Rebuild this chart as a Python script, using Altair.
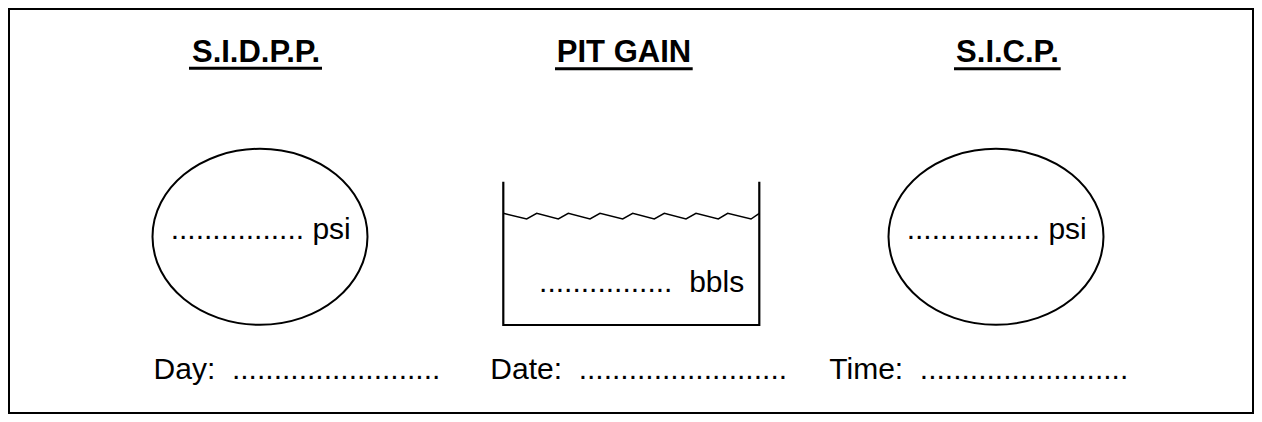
import altair as alt
import pandas as pd

NB = "\u00a0"

# ---- content ----
titles = ["S.I.D.P.P.", "PIT GAIN", "S.I.C.P."]
title_x = [256, 624, 1007.5]
title_y = [61.7, 61.7, 61.7]
underline_x1 = [189, 555, 954]
underline_x2 = [322, 692.7, 1060.7]
underline_y = [68.3, 68.7, 68.7]

gauge_labels = ["." * 16 + NB + "psi", "." * 16 + NB * 2 + "bbls", "." * 16 + NB + "psi"]
gauge_label_x = [170.7, 539.1, 906.7]
gauge_label_y = [239, 292.3, 239]

# pressure gauges drawn as ellipses (measured 216 wide x 176 tall)
gauge_cx = [260, 996]
gauge_cy = [236.8, 236.8]
gauge_w = 215
gauge_h = 176

tank_x = [503.3, 503.3, 759.3, 759.3]
tank_y = [181.7, 325, 325, 181.7]

wave_x = [503.3, 526.7, 536.7, 558.3, 568.3, 590, 600, 622.7, 632.7,
          654.3, 664.3, 686, 696, 718.3, 727.7, 751, 759.3]
wave_y = [213.3, 219, 213.3, 219, 213.3, 219, 213.3, 219, 213.3,
          219, 213.3, 219, 213.3, 219, 213.3, 219, 213.3]

footer_labels = ["Day:" + NB * 2 + "." * 25,
                 "Date:" + NB * 2 + "." * 25,
                 "Time:" + NB * 2 + "." * 25]
footer_x = [153.6, 490.3, 829.3]
footer_y = [379.3, 379.3, 379.3]

border = {"x1": [9], "x2": [1253], "y1": [9], "y2": [413]}

# ---- scales: page-pixel coordinates ----
W, H = 1246, 406
xs = alt.Scale(domain=[8, 8 + W], nice=False, zero=False)
ys = alt.Scale(domain=[8, 8 + H], nice=False, zero=False, reverse=True)
FONT = "Liberation Sans"


def X(f="x"):
    return alt.X(f"{f}:Q", scale=xs, axis=None)


def Y(f="y"):
    return alt.Y(f"{f}:Q", scale=ys, axis=None)


frame = alt.Chart(pd.DataFrame(border)).mark_rect(
    fill=None, stroke="black", strokeWidth=2
).encode(x=X("x1"), x2="x2:Q", y=Y("y1"), y2="y2:Q")

title_df = pd.DataFrame({"t": titles, "x": title_x, "y": title_y})
title_layer = alt.Chart(title_df).mark_text(
    font=FONT, fontSize=31, fontWeight="bold", align="center",
    baseline="alphabetic", color="black"
).encode(x=X(), y=Y(), text="t:N")

ul_df = pd.DataFrame({"x1": underline_x1, "x2": underline_x2, "y": underline_y})
ul_layer = alt.Chart(ul_df).mark_rule(color="black", strokeWidth=3).encode(
    x=X("x1"), x2="x2:Q", y=Y()
)

ry = gauge_h / gauge_w
ellipse_path = f"M -1 0 A 1 {ry:.4f} 0 1 1 1 0 A 1 {ry:.4f} 0 1 1 -1 0 Z"
circ_df = pd.DataFrame({"x": gauge_cx, "y": gauge_cy})
circ_layer = alt.Chart(circ_df).mark_point(
    shape=ellipse_path, filled=False, color="black", strokeWidth=2,
    size=gauge_w * gauge_w, opacity=1
).encode(x=X(), y=Y())

tank_df = pd.DataFrame({"x": tank_x, "y": tank_y, "o": list(range(len(tank_x)))})
tank_layer = alt.Chart(tank_df).mark_line(color="black", strokeWidth=2.2).encode(
    x=X(), y=Y(), order="o:Q"
)

wave_df = pd.DataFrame({"x": wave_x, "y": wave_y, "o": list(range(len(wave_x)))})
wave_layer = alt.Chart(wave_df).mark_line(color="black", strokeWidth=1.5).encode(
    x=X(), y=Y(), order="o:Q"
)

gl_df = pd.DataFrame({"t": gauge_labels, "x": gauge_label_x, "y": gauge_label_y})
gl_layer = alt.Chart(gl_df).mark_text(
    font=FONT, fontSize=30, align="left", baseline="alphabetic", color="black"
).encode(x=X(), y=Y(), text="t:N")

ft_df = pd.DataFrame({"t": footer_labels, "x": footer_x, "y": footer_y})
ft_layer = alt.Chart(ft_df).mark_text(
    font=FONT, fontSize=30, align="left", baseline="alphabetic", color="black"
).encode(x=X(), y=Y(), text="t:N")

chart = alt.layer(
    frame, title_layer, ul_layer, circ_layer, tank_layer, wave_layer,
    gl_layer, ft_layer
).properties(
    width=W, height=H,
    autosize=alt.AutoSizeParams(type="none"),
    padding=0,
    background="white",
).configure_view(stroke=None)

chart.save("out.html", embed_options={"renderer": "svg", "actions": False})
